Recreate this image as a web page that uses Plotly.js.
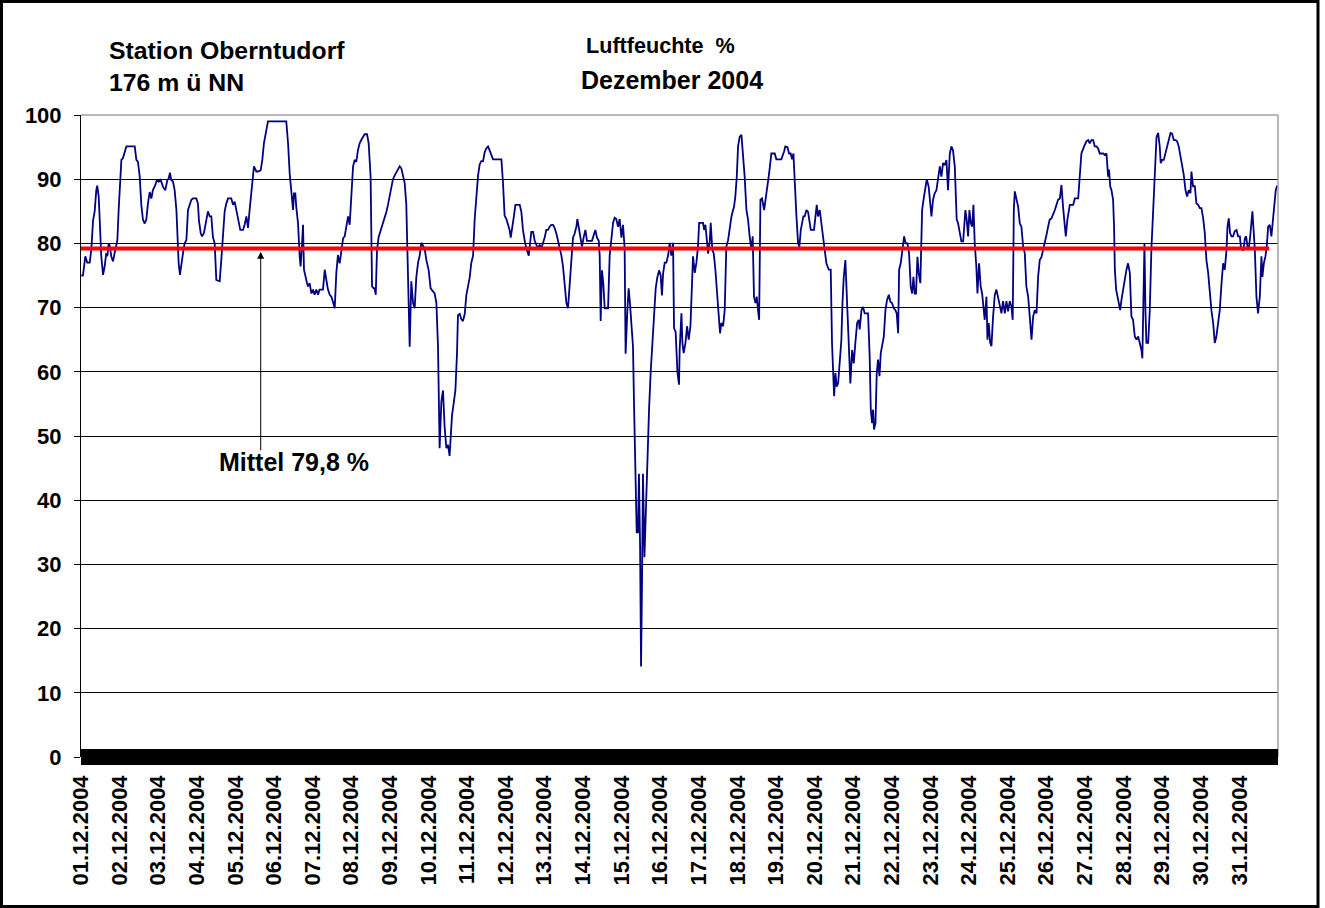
<!DOCTYPE html>
<html>
<head>
<meta charset="utf-8">
<script src="https://cdn.plot.ly/plotly-3.0.1.min.js"></script>
<style>
  html, body { margin: 0; padding: 0; background: #fff; }
  #chart { width: 1325px; height: 908px; }
</style>
</head>
<body>
<div id="chart"></div>
<script>
// Stunden seit 01.12.2004 00:00 und relative Luftfeuchte (%)
const stundenA = [
  0.2,1.2,2.7,3.9,5.4,6.4,7.5,8.5,9.5,10.1,
  11.0,11.6,12.6,13.7,14.7,15.7,16.4,17.2,18.0,18.8,
  19.9,20.9,22.6,23.4,24.4,25.1,26.1,27.1,28.2,33.4,
  34.4,35.4,36.5,37.5,38.5,39.6,40.6,41.6,42.7,43.7,
  44.7,46.2,47.2,48.3,49.5,51.0,52.4,53.7,54.5,55.3,
  56.1,57.2,58.2,59.3,59.9,60.7,61.5,62.4,63.4,64.4,
  65.5,66.5,68.6,69.6,71.7,72.7,73.3,74.4,75.2,76.4,
  77.5,78.9,80.0,81.0,82.0,83.1,84.1,86.2,87.2,88.3,
  89.3,90.3,91.4,93.4,94.5,95.5,96.5,97.6,99.0,100.7,
  101.7,102.8,103.8,104.8,105.9,106.9,107.5,109.0,110.0,111.7,
  112.7,113.7,115.2,116.2,127.6,128.7,129.7,130.7,131.8,132.4,
  133.2,133.8,134.9,135.9,136.5,137.4,138.0,138.6,139.4,140.5,
  141.1,142.1,143.2,144.2,145.2,146.3,147.3,148.3,150.4,151.5,
  152.5,153.5,154.6,155.6,156.6,157.7,158.7,159.7,160.8,161.8,
  162.9,163.9,164.9,166.0,167.0,168.0,169.1,170.1,171.1,172.2,
  173.2,174.2,175.3,176.3,177.8,178.8,180.0,180.5,180.9,181.9,
  182.5,183.2,184.0,185.0,186.3,187.7
];
const feuchteA = [
  75,75,78,77,77,79,83.6,85,88.3,89,
  87.3,82.6,78,75.1,76.4,78.5,78,80,79.5,78,
  77.2,78.5,80.5,85.2,90.9,93,93.3,94.3,95.1,95.1,
  93,92.7,90.4,86,83.7,83.1,83.7,86.2,88,87,
  88.3,89.1,89.9,89.6,89.9,88.8,88.3,89.9,90.1,91,
  89.9,89.6,88.3,85.2,81,76.9,75.1,76.4,78.5,80,
  80.5,85.2,86.8,87,87,86.2,83.6,81.6,81.1,81.6,
  83.1,85,84.2,84.2,81,80,74.3,74.1,77.4,81.6,
  85,86.2,87,87,86,86.5,85.2,84.2,82.1,82.1,
  82.9,84.2,82.4,85.2,87.8,91.2,92,91.2,91.2,91.4,
  93,95.6,97.9,99,99,95.6,90.9,88.3,85.2,87.8,
  87.8,85.7,83.1,78,76.4,80,82.9,75.9,74.8,73.8,
  73.3,73.8,72.2,72.8,72,72.8,72,72.8,72.8,75.9,
  74.3,72.8,72,71.7,70.9,69.9,75.4,78.2,76.9,79,
  80.8,81.1,82.6,84.2,82.9,87.3,92,93,92.7,94.6,
  95.6,96.1,96.6,97,97,95.6,90.4,82.6,73.3,73,
  73,72,79,81,82,83.1
];
const stundenB = [
  188.7,189.8,190.8,191.9,192.9,193.9,195.0,196.0,197.0,198.1,
  199.1,200.1,201.2,202.2,202.8,203.7,204.3,205.3,206.4,207.4,
  208.4,209.5,210.5,211.5,212.6,213.6,214.6,216.1,217.3,218.8,
  219.8,220.9,221.9,222.9,224.0,225.0,226.0,227.1,228.1,229.1,
  229.8,230.6,231.8,232.7,233.7,234.3,235.4,236.4,237.4,238.5,
  239.5,240.5,241.6,242.6,243.7,244.7,245.7,246.8,247.8,248.8,
  249.9,250.9,251.9,253.0,254.0,255.0,256.1,257.1,261.3,262.3,
  263.3,264.4,265.4,266.4,267.1,267.9,269.1,270.0,272.7,273.7,
  274.7,275.8,276.8,278.3,278.9,279.9,281.0,282.0,283.0,284.1,
  285.1,286.1,287.2,288.2,289.2,290.3,291.3,292.3,293.4,294.4,
  295.5,296.5,297.5,298.6,299.6,300.6,301.7,302.7,303.7,304.8,
  305.8,306.8,307.9,308.5,309.3,310.4,311.4,312.4,313.5,314.5,
  315.5,317.6,318.7,319.7,320.7,321.8,322.4,323.0,323.8,324.7,
  325.5,327.6,328.6,329.6,330.7,331.7,332.7,333.8,334.8,335.9,
  336.9,337.9,338.5,339.6,340.4,341.2,342.1,343.1,343.7,344.6,
  345.4,346.2,346.8,347.5,348.1,348.7,349.3,350.2,351.0,352.0,
  353.1,354.1,355.1,356.2,357.2,358.2,359.3,360.3,361.1,361.8,
  362.8,363.8,364.9,365.9,366.9,368.0,368.6,369.6,370.7,371.7
];
const feuchteB = [
  83.8,84.9,86.0,87.5,88.9,90,90.6,91.1,91.4,92,
  91.7,90.8,89.4,86,79.2,69.6,63.9,74.1,70.7,69.9,
  74.7,77,78.1,80.1,79.5,79.2,77.5,75.8,73,72.4,
  72.2,70.7,63.9,48.1,55.4,57.1,51.5,48.1,48.6,46.9,
  50.9,53.2,55.4,57.1,62.8,68.8,69,68.2,67.9,69,
  71.9,73,74.7,77,78.1,83.8,87.7,90.6,92.3,92.8,
  92.8,94.2,94.8,95.1,94.5,93.7,93.1,93.1,93.1,89.4,
  84.3,83.8,82.9,82.1,80.9,82.6,84.3,86,86,84.9,
  82.1,80.4,79.2,78.1,79.5,81.8,81.8,80.4,79.8,79.2,
  79.8,79.2,80.1,80.9,82.1,82.1,82.6,82.9,82.9,82.4,
  81.5,80.4,79.2,78.1,76.4,73.6,70.7,69.9,73.6,78.1,
  80.9,81.5,82.6,83.8,82.6,80.4,79.5,80.9,82.1,80.4,
  80.4,80.4,81.3,82.1,80.9,80.4,78.1,67.9,75.8,73.6,
  69.9,69.9,78.1,80.9,83.2,84,83.8,82.6,83.8,80.9,
  82.9,79.2,62.8,69.6,73,70.7,66.8,63.9,55.4,44.1,
  35,35,44.1,32.8,14.1,27.1,44.1,31.1,38.4,46.9,
  54.3,60,64.5,67.9,73,74.7,75.8,75,71.9,75.3,
  77,77,78.1,80.1,78.1,80.1,66.8,66.2,60,58
];
const stundenC = [
  372.1,373.2,373.8,374.6,375.7,376.7,377.7,378.8,379.4,380.4,
  381.5,382.5,383.5,384.2,386.6,387.3,388.1,389.1,389.8,390.8,
  391.4,392.4,393.3,394.3,395.3,396.4,397.2,398.0,399.1,400.1,
  401.1,402.2,403.2,404.3,405.3,405.9,406.7,407.6,408.4,409.4,
  410.5,411.5,412.5,413.6,414.6,415.6,416.7,417.5,418.3,419.2,
  420.0,420.8,421.5,422.3,423.3,424.6,425.6,426.6,427.7,429.1,
  431.2,432.2,435.3,437.0,437.8,439.1,440.1,441.1,442.0,442.8,
  443.6,444.7,445.7,446.5,447.4,448.2,449.0,449.8,450.9,451.9,
  453.0,453.6,455.6,456.5,457.3,458.1,459.2,460.2,461.2,462.3,
  463.3,464.8,466.0,466.8,467.5,468.1,468.9,469.7,470.6,471.6,
  472.6,473.3,474.1,475.1,476.1,477.2,478.2,479.3,480.3,481.3,
  482.4,483.4,484.0,485.1,486.1,487.1,489.2,490.2,490.9,491.7,
  492.3,492.9,493.8,494.6,495.4,496.3,497.1,497.9,499.0,500.0,
  501.0,502.1,503.1,504.1,505.2,506.2,507.0,507.9,508.5,509.5,
  510.6,511.6,512.6,513.7,514.7,515.7,516.6,517.4,518.2,519.0,
  519.9,520.7,521.7,522.8,523.8,524.8,525.7,526.9,527.7,528.6,
  529.6,530.6,531.7,532.7,533.8,534.8,535.8,536.9,537.9,538.9,
  540.0,541.0,542.0,543.1,543.7,544.3,545.1,546.2,547.2,548.3,
  548.9,549.7,550.5,551.4,552.2,553.0,553.9,554.7,555.5,556.5,
  557.2,558.2,559.2,560.1
];
const feuchteC = [
  63.4,69.1,64.5,62.9,64.5,67.1,65,67.1,71.7,78,
  75.4,77,79.5,83.2,83.2,82.1,82.9,80,78.4,80.3,
  83.2,79,78.4,75.9,72.2,68.1,66,67.6,67.1,69.6,
  79.5,80.5,82.6,84.2,85.2,85.7,87.3,90.4,95.1,96.6,
  96.9,94,90.4,85.2,83.7,81.1,79,81.1,71.7,70.7,
  71.7,69.6,68.1,86.8,87,85.2,86.8,88.9,90.9,94,
  94,93.1,93.1,94.3,95.1,95,94,94,93.1,94,
  88.9,84.2,80,79.5,82.1,83.1,84.2,84.2,85.2,84.9,
  83.1,82.1,82.1,84.7,86,84.2,85.2,83.1,81.1,79.5,
  76.9,75.9,75.9,64.5,60.8,56.2,59.8,57.7,58.2,61.3,
  64.9,70.7,74.8,77.4,71.7,65.5,58.2,63.4,61.3,64.5,
  67.6,68.1,66.6,69.6,70.1,69.1,69.1,62.4,54.1,52,
  54.1,51,52,59.8,61.9,59.3,62.9,64,65.5,69.6,
  71.2,72,70.9,70.7,69.9,69.6,69.1,66,75.9,76.9,
  79,81.1,80,80,78.4,73.3,72.2,74.8,72.2,72.2,
  77.9,75.4,73.8,85.2,87,88.8,90,88.8,86.2,84.2,
  86.8,87.8,88.3,90.4,92,90.4,92.5,92.2,93,88.3,
  94,95.1,94.5,92,87.8,83.7,83.2,81.6,80.3,80.3,
  83.2,85.2,83.7,81.1,85.2,83.2,82.6,86,80,76.4,
  72.2,76.9,73.3,72.2
];
const stundenD = [
  561.7,562.8,563.4,564.2,565.1,565.9,566.9,568.0,569.0,570.0,
  571.1,572.1,573.1,574.2,575.2,576.2,577.3,578.3,579.1,579.8,
  580.4,581.4,582.5,583.5,584.5,585.6,586.6,587.6,588.7,589.7,
  590.8,591.8,592.8,593.9,594.9,595.9,597.0,598.0,599.0,600.1,
  601.1,602.1,603.2,604.2,605.3,606.3,607.3,608.4,609.4,610.4,
  611.5,612.1,613.1,614.6,616.7,617.7,619.8,620.8,621.8,623.5,
  624.9,626.0,627.0,628.0,629.1,630.1,631.2,632.2,633.2,635.3,
  636.3,637.4,638.4,639.0,639.7,640.5,641.5,642.1,642.6,643.4,
  644.2,645.0,645.9,646.7,647.7,648.8,649.8,650.8,651.9,652.9,
  653.9,655.0,656.0,657.1,658.1,659.1,659.7,660.4,661.0,661.6,
  662.2,663.3,664.3,665.3,666.4,667.4,668.5,669.5,670.5,671.1,
  672.0,673.0,674.0,675.1,676.1,677.2,678.2,679.2,680.3,681.3,
  682.3,683.4,684.4,685.4,686.5,687.5,688.5,689.6,690.2,691.2,
  692.3,693.3,694.4,695.4,696.4,697.5,698.5,699.5,700.6,701.6,
  702.6,703.7,704.7,705.7,706.8,707.8,708.9,709.9,710.9,712.0,
  712.6,713.4,714.2,715.1,716.1,717.1,718.2,719.2,720.3,720.9,
  721.7,722.5,723.4,724.2,725.0,725.8,726.7,727.5,728.1,728.7,
  729.6,730.6,731.6,732.7,733.7,734.3,735.2,736.2,737.0,737.9,
  738.9,739.9,740.8,741.6,742.6,743.5
];
const feuchteD = [
  68.1,71.7,65,67.6,64.5,64,68.6,72,72.8,71.7,
  70.7,69.1,71,69.1,71,69.4,71,70.2,68.1,85.2,
  88.1,86.8,85.7,83.1,82.6,79.5,78.5,73.3,71.7,68.6,
  65,68.6,69.6,69.1,74.8,77.4,77.9,79,80,81.3,
  82.6,83.7,83.9,84.4,85.2,86,86.8,87,89.1,85.7,
  82.6,81.1,83.7,86,86,87,87,90.9,94,95.1,
  95.9,96.1,95.6,96.1,96.1,95.1,95.1,94.8,94,94,
  93.8,94,90.4,91.5,88.9,88.3,86.8,82.6,75.9,72.8,
  71.7,70.2,69.6,71.2,72.8,74.3,75.9,76.9,75.4,68.6,
  68.1,65.5,65,65.5,64.5,63.4,62.1,71.7,80,69.6,
  64.5,64.5,69.6,79,85.2,92,96.6,97.2,95.1,92.5,
  93,93,94,95.1,96.1,97.2,97.1,96.1,96.1,95.9,
  95.1,93.5,91.5,90.7,88.3,87.3,88.3,87.8,91.2,88.9,
  88.9,86.2,86,85.5,85.5,83.9,81.6,77.4,75.4,71.7,
  69.6,67.6,64.5,65.5,67.6,69.6,73.8,76.9,75.9,79,
  82.6,83.9,81.6,81.1,81.1,81.9,82.1,81.1,81.1,79.5,
  79,79,80.8,81.1,79.5,79,81.1,83.7,85,82.6,
  79,71.7,69.1,71.7,78,74.8,76.9,78,79.5,82.6,
  82.9,81.1,83.7,86.2,88.3,89
];

// Mittelwertlinie (wie im Bild gezeichnet) und ihre Ausdehnung in Stunden
const mittelStunden = [0, 738.5];
const mittelWerte = [79.2, 79.2];
const mittelText = 'Mittel 79,8 %';
const pfeilStunde = 111.7;
const pfeilWert = 78.7;

const tagWerte = [
  '2004-12-01','2004-12-02','2004-12-03','2004-12-04','2004-12-05','2004-12-06','2004-12-07',
  '2004-12-08','2004-12-09','2004-12-10','2004-12-11','2004-12-12','2004-12-13','2004-12-14',
  '2004-12-15','2004-12-16','2004-12-17','2004-12-18','2004-12-19','2004-12-20','2004-12-21',
  '2004-12-22','2004-12-23','2004-12-24','2004-12-25','2004-12-26','2004-12-27','2004-12-28',
  '2004-12-29','2004-12-30','2004-12-31'
];
const tagLabels = [
  '01.12.2004','02.12.2004','03.12.2004','04.12.2004','05.12.2004','06.12.2004','07.12.2004',
  '08.12.2004','09.12.2004','10.12.2004','11.12.2004','12.12.2004','13.12.2004','14.12.2004',
  '15.12.2004','16.12.2004','17.12.2004','18.12.2004','19.12.2004','20.12.2004','21.12.2004',
  '22.12.2004','23.12.2004','24.12.2004','25.12.2004','26.12.2004','27.12.2004','28.12.2004',
  '29.12.2004','30.12.2004','31.12.2004'
];

const pairs = [[stundenA,feuchteA],[stundenB,feuchteB],[stundenC,feuchteC],[stundenD,feuchteD]];
pairs.forEach((p,i) => { if (p[0].length !== p[1].length) throw new Error('length mismatch ' + i + ': ' + p[0].length + ' vs ' + p[1].length); });

const stunden = [].concat(stundenA, stundenB, stundenC, stundenD);
const feuchte = [].concat(feuchteA, feuchteB, feuchteC, feuchteD);

const base = Date.UTC(2004, 11, 1, 0, 0, 0);
function toDate(h) {
  return new Date(base + h * 3600000).toISOString().slice(0, 19).replace('T', ' ');
}

const FONT = 'Liberation Sans, Arial, Helvetica, sans-serif';
const L = 81, R = 47, T = 115, B = 151, W = 1325, H = 908;
const PW = W - L - R, PH = H - T - B;
const px = x => (x - L) / PW;
const py = y => (H - B - y) / PH;

const traces = [
  {
    x: stunden.map(toDate), y: feuchte, type: 'scatter', mode: 'lines',
    line: { color: '#000080', width: 1.8 }, hoverinfo: 'x+y'
  },
  {
    x: mittelStunden.map(toDate), y: mittelWerte, type: 'scatter', mode: 'lines',
    line: { color: '#ff0000', width: 4 }, hoverinfo: 'y'
  }
];

const layout = {
  width: W, height: H,
  margin: { l: L, r: R, t: T, b: B, pad: 0 },
  paper_bgcolor: '#ffffff', plot_bgcolor: '#ffffff',
  showlegend: false,
  font: { family: FONT, color: '#000' },
  xaxis: {
    type: 'date',
    range: ['2004-12-01 00:00:00', '2005-01-01 00:00:00'],
    tickmode: 'array', tickvals: tagWerte, ticktext: tagLabels,
    tickangle: -90,
    tickfont: { family: FONT, size: 22, color: '#000', weight: 'bold' },
    showgrid: false, zeroline: false, showline: false, ticks: '',
    ticklabelstandoff: 13
  },
  yaxis: {
    range: [0, 100], tickmode: 'linear', tick0: 0, dtick: 10,
    showline: true, linecolor: '#000', linewidth: 1,
    ticks: 'outside', ticklen: 6, tickwidth: 1, tickcolor: '#000',
    showgrid: true, gridcolor: '#000', gridwidth: 1, zeroline: false,
    tickfont: { family: FONT, size: 22, color: '#000', weight: 'bold' },
    ticklabelstandoff: 8
  },
  shapes: [
    { type: 'line', xref: 'paper', yref: 'paper', x0: 0, x1: 1, y0: 1, y1: 1,
      line: { color: '#a0a0a0', width: 1.5 }, layer: 'above' },
    { type: 'line', xref: 'paper', yref: 'paper', x0: 1, x1: 1, y0: 0, y1: 1,
      line: { color: '#a0a0a0', width: 1.5 }, layer: 'above' },
    { type: 'rect', xref: 'paper', yref: 'paper', x0: 0, x1: 1, y0: -8 / PH, y1: 8 / PH,
      fillcolor: '#000', line: { width: 0 }, layer: 'above' },
    { type: 'rect', xref: 'paper', yref: 'paper',
      x0: px(1.5), x1: px(1318), y0: py(906.5), y1: py(1.5),
      fillcolor: 'rgba(0,0,0,0)', line: { color: '#000', width: 3 }, layer: 'above' }
  ],
  annotations: [
    { xref: 'paper', yref: 'paper', x: px(107), y: py(66), xanchor: 'left', yanchor: 'middle',
      align: 'left', showarrow: false, text: 'Station Oberntudorf<br>176 m ü NN',
      font: { family: FONT, size: 24.8, color: '#000', weight: 'bold' } },
    { xref: 'paper', yref: 'paper', x: px(660), y: py(45), xanchor: 'center', yanchor: 'middle',
      showarrow: false, text: 'Luftfeuchte\u00a0\u00a0%',
      font: { family: FONT, size: 21.6, color: '#000', weight: 'bold' } },
    { xref: 'paper', yref: 'paper', x: px(671.5), y: py(80), xanchor: 'center', yanchor: 'middle',
      showarrow: false, text: 'Dezember 2004',
      font: { family: FONT, size: 25, color: '#000', weight: 'bold' } },
    { xref: 'paper', yref: 'paper', x: px(294), y: py(462), xanchor: 'center', yanchor: 'middle',
      showarrow: false, text: mittelText,
      font: { family: FONT, size: 25, color: '#000', weight: 'bold' } },
    { xref: 'x', yref: 'y', x: toDate(pfeilStunde), y: pfeilWert, text: '',
      showarrow: true, ax: 0, ay: 200, arrowhead: 2, arrowsize: 1.4, arrowwidth: 1,
      arrowcolor: '#000', standoff: 0 }
  ]
};

Plotly.newPlot('chart', traces, layout, { displayModeBar: false, staticPlot: true });
</script>
</body>
</html>
